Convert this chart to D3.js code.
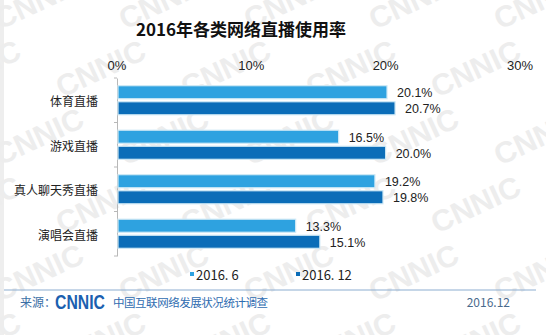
<!DOCTYPE html>
<html><head><meta charset="utf-8">
<script src="https://cdn.jsdelivr.net/npm/d3@7"></script>
<style>html,body{margin:0;padding:0;background:#fff;}svg{display:block;}</style>
</head><body>
<script>
const categories = ["体育直播","游戏直播","真人聊天秀直播","演唱会直播"];
const seriesNames = ["2016. 6","2016. 12"];
const values2016_6 = [20.1,16.5,19.2,13.3];
const values2016_12 = [20.7,20.0,19.8,15.1];
const tickValues = [0,10,20,30];
const title = "2016年各类网络直播使用率";
const colors = ["#2ea2e0","#0b6db8"];

const W=546,H=335;
const svg=d3.select("body").append("svg").attr("width",W).attr("height",H);
svg.append("rect").attr("width",W).attr("height",H).attr("fill","#fff");
svg.append("rect").attr("x",0).attr("y",0).attr("width",4).attr("height",H).attr("fill","#eeeeee");

// watermark
const wm=svg.append("g").attr("fill","#ededed").attr("font-family","Liberation Sans, Arial").attr("font-weight","bold").attr("font-size",30);
for(let r=-1;r<6;r++){for(let c=-1;c<6;c++){
  const x=c*125+(r%2)*62, y=r*68+30;
  wm.append("text").attr("transform",`translate(${x},${y}) rotate(-25)`).text("CNNIC");
}}

const x=d3.scaleLinear().domain([0,30]).range([117,520]);
const y=d3.scaleBand().domain(categories).range([78,256]);
const inner=d3.scaleBand().domain(seriesNames).range([0,y.bandwidth()]).paddingInner(0.1875).paddingOuter(0.48);

svg.append("text").attr("x",241).attr("y",36).attr("text-anchor","middle")
  .attr("font-family","Noto Sans CJK SC").attr("font-weight","bold").attr("font-size",17).attr("fill","#111").text(title);

// top tick labels
svg.append("g").selectAll("text").data(tickValues).join("text")
  .attr("x",d=>x(d)).attr("y",70).attr("text-anchor","middle")
  .attr("font-family","Liberation Sans, Arial").attr("font-size",13).attr("fill","#222")
  .text(d=>d+"%");

// left axis
const ax=d3.axisLeft(y).tickSize(0).tickFormat("");
const axg=svg.append("g").attr("transform",`translate(${x(0)},0)`).call(ax);
axg.select(".domain").attr("stroke","#b8b8b8");
axg.selectAll(".tick").remove();
const bounds=[...categories.map(c=>y(c)),y.range()[1]];
svg.append("g").selectAll("line").data(bounds).join("line")
  .attr("x1",x(0)-3).attr("x2",x(0)).attr("y1",d=>d).attr("y2",d=>d).attr("stroke","#b8b8b8");

// category labels
svg.append("g").selectAll("text").data(categories).join("text")
  .attr("x",98).attr("y",d=>y(d)+y.bandwidth()/2+6).attr("text-anchor","end")
  .attr("font-family","Noto Sans CJK SC").attr("font-size",12).attr("fill","#222")
  .text(d=>d);

const data=categories.map((c,i)=>({c,vals:[values2016_6[i],values2016_12[i]]}));
const rows=[];
data.forEach(d=>d.vals.forEach((v,j)=>rows.push({c:d.c,s:seriesNames[j],v,j})));

const bars=svg.append("g");
bars.selectAll("rect").data(rows).join("rect")
  .attr("x",x(0)+1).attr("y",d=>y(d.c)+inner(d.s))
  .attr("width",d=>x(d.v)-x(0)-1).attr("height",inner.bandwidth())
  .attr("fill",d=>colors[d.j]).attr("stroke","#cfe9f6").attr("stroke-width",1.2);

svg.append("g").selectAll("text").data(rows).join("text")
  .attr("x",d=>x(d.v)+10).attr("y",d=>y(d.c)+inner(d.s)+inner.bandwidth()/2+5)
  .attr("font-family","Liberation Sans, Arial").attr("font-size",12.5).attr("fill","#222")
  .text(d=>d.v.toFixed(1)+"%");

// legend
const legX=[190,296];
const lg=svg.append("g");
seriesNames.forEach((s,i)=>{
  lg.append("rect").attr("x",legX[i]).attr("y",272).attr("width",4).attr("height",4).attr("fill",colors[i]);
  lg.append("text").attr("x",legX[i]+6).attr("y",280).attr("font-family","Noto Sans CJK SC").attr("font-size",13).attr("fill","#222").text(s);
});

// footer
svg.append("line").attr("x1",4).attr("x2",536).attr("y1",290).attr("y2",290).attr("stroke","#8cadd0").attr("stroke-width",1);
svg.append("text").attr("x",20).attr("y",307).attr("font-family","Noto Sans CJK SC").attr("font-size",12).attr("fill","#3a6ea5").text("来源：");
svg.append("text").attr("x",55).attr("y",309).attr("font-family","Liberation Sans, Arial").attr("font-weight","bold").attr("font-size",20).attr("fill","#1b5fb0").attr("textLength",50).attr("lengthAdjust","spacingAndGlyphs").text("CNNIC");
svg.append("text").attr("x",113).attr("y",307).attr("font-family","Noto Sans CJK SC").attr("font-size",11.5).attr("fill","#2f6cb0").attr("textLength",155).text("中国互联网络发展状况统计调查");
svg.append("text").attr("x",510).attr("y",307).attr("text-anchor","end").attr("font-family","Noto Sans CJK SC").attr("font-size",12).attr("fill","#4a6a8c").text("2016.12");
</script>
</body></html>
